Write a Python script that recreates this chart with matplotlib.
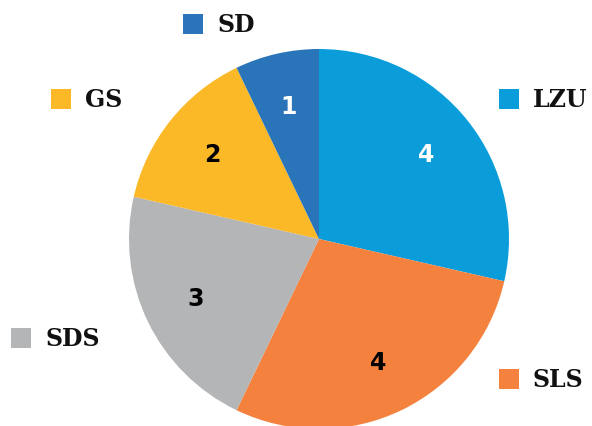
import matplotlib.pyplot as plt

# data
labels = ['LZU', 'SLS', 'SDS', 'GS', 'SD']
values = [4, 4, 3, 2, 1]
colors = ['#0B9DDA', '#F5813F', '#B4B5B7', '#FBB827', '#2A75BA']
value_colors = ['white', 'black', 'black', 'black', 'white']

# legend entries placed around the pie (pixel coords, top-left origin)
legend_pos = {'SD': (193, 25), 'LZU': (509, 100), 'GS': (61, 100),
              'SDS': (21, 339), 'SLS': (509, 380)}

W, H = 592, 427
fig = plt.figure(figsize=(W / 100, H / 100), dpi=100)
ax = fig.add_axes([0, 0, 1, 1])

cx, cy, r = 319, H - 240, 190
wedges, texts, autotexts = ax.pie(
    values, colors=colors, startangle=90, counterclock=False,
    center=(cx, cy), radius=r, frame=True,
    autopct=lambda p: f'{p * sum(values) / 100:.0f}', pctdistance=0.72,
    wedgeprops=dict(linewidth=0))
ax.set_xlim(0, W)
ax.set_ylim(0, H)
ax.set_aspect('equal')
ax.axis('off')

for t, c in zip(autotexts, value_colors):
    t.set_color(c)
    t.set_fontsize(17)
    t.set_fontweight('bold')
    t.set_family('DejaVu Sans')

for lab, col in zip(labels, colors):
    x, y = legend_pos[lab]
    ax.scatter([x], [H - y], marker='s', s=190, color=col, linewidths=0)
    ax.text(x + 24, H - y, lab, fontsize=17, fontweight='bold',
            family='DejaVu Serif', va='center', ha='left', color='#111111')

plt.savefig('out.png', dpi=100)
